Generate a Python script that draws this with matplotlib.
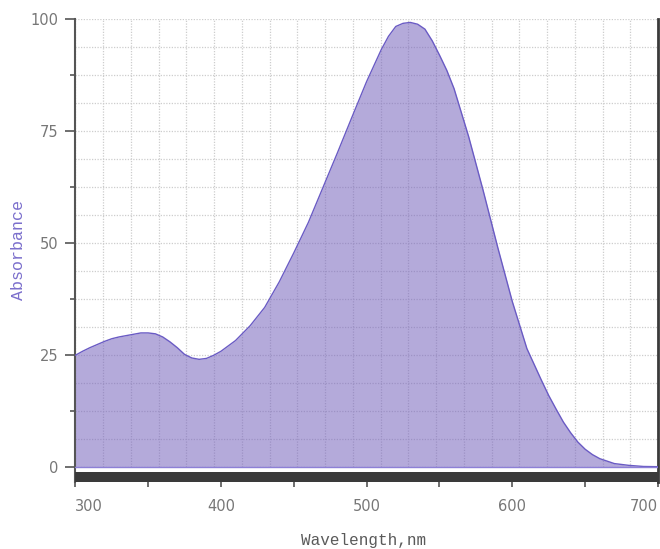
import matplotlib
matplotlib.use("Agg")
import matplotlib.pyplot as plt
from matplotlib.patches import Rectangle
from matplotlib.ticker import FixedLocator
from matplotlib.font_manager import FontProperties
import numpy as np

# ---- data ----
wavelength = [300, 305, 310, 315, 320, 325, 330, 335, 340, 345,
              350, 355, 360, 365, 370, 375, 380, 385, 390, 395,
              400, 410, 420, 430, 440, 450, 460, 470, 480, 490,
              500, 510, 515, 520, 525, 530, 535, 540, 545, 550,
              555, 560, 570, 580, 590, 600, 610, 620, 625, 630,
              635, 640, 645, 650, 655, 660, 670, 680, 690, 700]
absorbance = [24.9, 25.8, 26.6, 27.3, 28.0, 28.6, 29.0, 29.3, 29.6, 29.9,
              29.9, 29.7, 29.0, 27.9, 26.6, 25.1, 24.3, 24.0, 24.2, 24.9,
              25.8, 28.2, 31.5, 35.6, 41.3, 47.8, 54.6, 62.4, 70.2, 78.2,
              86.1, 93.2, 96.2, 98.4, 99.1, 99.3, 98.9, 97.8, 95.2, 92.0,
              88.6, 84.5, 73.8, 61.7, 49.0, 36.9, 26.4, 19.3, 15.9, 12.9,
              10.0, 7.6, 5.5, 3.9, 2.7, 1.8, 0.7, 0.3, 0.05, 0.0]
x_ticks = [300, 400, 500, 600, 700]
x_minor = [350, 450, 550, 650]
y_ticks = [0, 25, 50, 75, 100]
y_minor = [12.5, 37.5, 62.5, 87.5]
x_label = "Wavelength,nm"
y_label = "Absorbance"

W, H = 660, 549
fig = plt.figure(figsize=(W / 100, H / 100), dpi=100)

left_px, right_px = 75.3, 658.0
top_px, zero_px, bottom_px = 19.3, 466.7, 481.7
y_bottom = -(bottom_px - zero_px) / (zero_px - top_px) * 100

def fx(px):
    return px / W

def fy(px):
    return 1 - px / H

# grid axes (background dotted grid covering 0..100)
axg = fig.add_axes([fx(left_px), fy(zero_px), fx(right_px - left_px), (zero_px - top_px) / H])
axg.set_xlim(300, 700)
axg.set_ylim(0, 100)
axg.xaxis.set_major_locator(FixedLocator(np.linspace(300, 700, 22)))
axg.yaxis.set_major_locator(FixedLocator(np.linspace(0, 100, 17)))
axg.grid(True, color="#cdcdcd", lw=0.9, ls=(0, (1.0, 1.2)))
axg.tick_params(length=0, labelbottom=False, labelleft=False)
for s in axg.spines.values():
    s.set_visible(False)
axg.set_zorder(0)

# main axes
ax = fig.add_axes([fx(left_px), fy(bottom_px), fx(right_px - left_px), (bottom_px - top_px) / H])
ax.set_zorder(1)
ax.patch.set_alpha(0)
ax.set_xlim(300, 700)
ax.set_ylim(y_bottom, 100)

ax.fill_between(wavelength, absorbance, 0, color=(0.465, 0.394, 0.743), alpha=0.55, lw=0, zorder=2)
ax.plot(wavelength, absorbance, color="#6a5bc4", lw=1.0, zorder=3)
ax.axhline(0, color="#8d80d6", lw=1.0, zorder=3)

# dark band under the plot
band_h = (bottom_px - 472.0) / (bottom_px - top_px)
ax.add_patch(Rectangle((0, 0), 1, band_h, transform=ax.transAxes,
                       color="#3a3a3a", lw=0, zorder=4, clip_on=False))

for s in ["top", "bottom"]:
    ax.spines[s].set_visible(False)
ax.spines["left"].set_color("#555555")
ax.spines["left"].set_linewidth(1.5)
ax.spines["right"].set_color("#3a3a3a")
ax.spines["right"].set_linewidth(2.0)

ax.set_xticks(x_ticks)
ax.set_xticks(x_minor, minor=True)
ax.set_yticks(y_ticks)
ax.set_yticks(y_minor, minor=True)
ax.set_xticklabels([str(v) for v in x_ticks])
ax.set_yticklabels([str(v) for v in y_ticks])

ax.tick_params(axis="y", which="major", direction="out", length=7, width=1.2,
               color="#555555", labelcolor="#777777", labelsize=10.5, pad=5)
ax.tick_params(axis="y", which="minor", direction="out", length=3.8, width=1.2, color="#555555")
ax.tick_params(axis="x", which="both", direction="out", length=3.8, width=1.2,
               color="#555555", labelcolor="#777777", labelsize=10.5, pad=9)
ax.tick_params(axis="y", which="both", right=False)

xl = ax.get_xticklabels()
xl[0].set_horizontalalignment("left")
xl[-1].set_horizontalalignment("right")

mono_x = FontProperties(family="Liberation Mono", size=11.5)
mono_y = FontProperties(family="Liberation Mono", size=12)
ax.set_xlabel(x_label, fontproperties=mono_x, color="#5a5a5a")
ax.xaxis.set_label_coords(0.495, -0.111)
ax.set_ylabel(y_label, fontproperties=mono_y, color="#7b6fcc")
ax.yaxis.set_label_coords(-0.084, 0.5)

fig.savefig("out.png", dpi=100)
